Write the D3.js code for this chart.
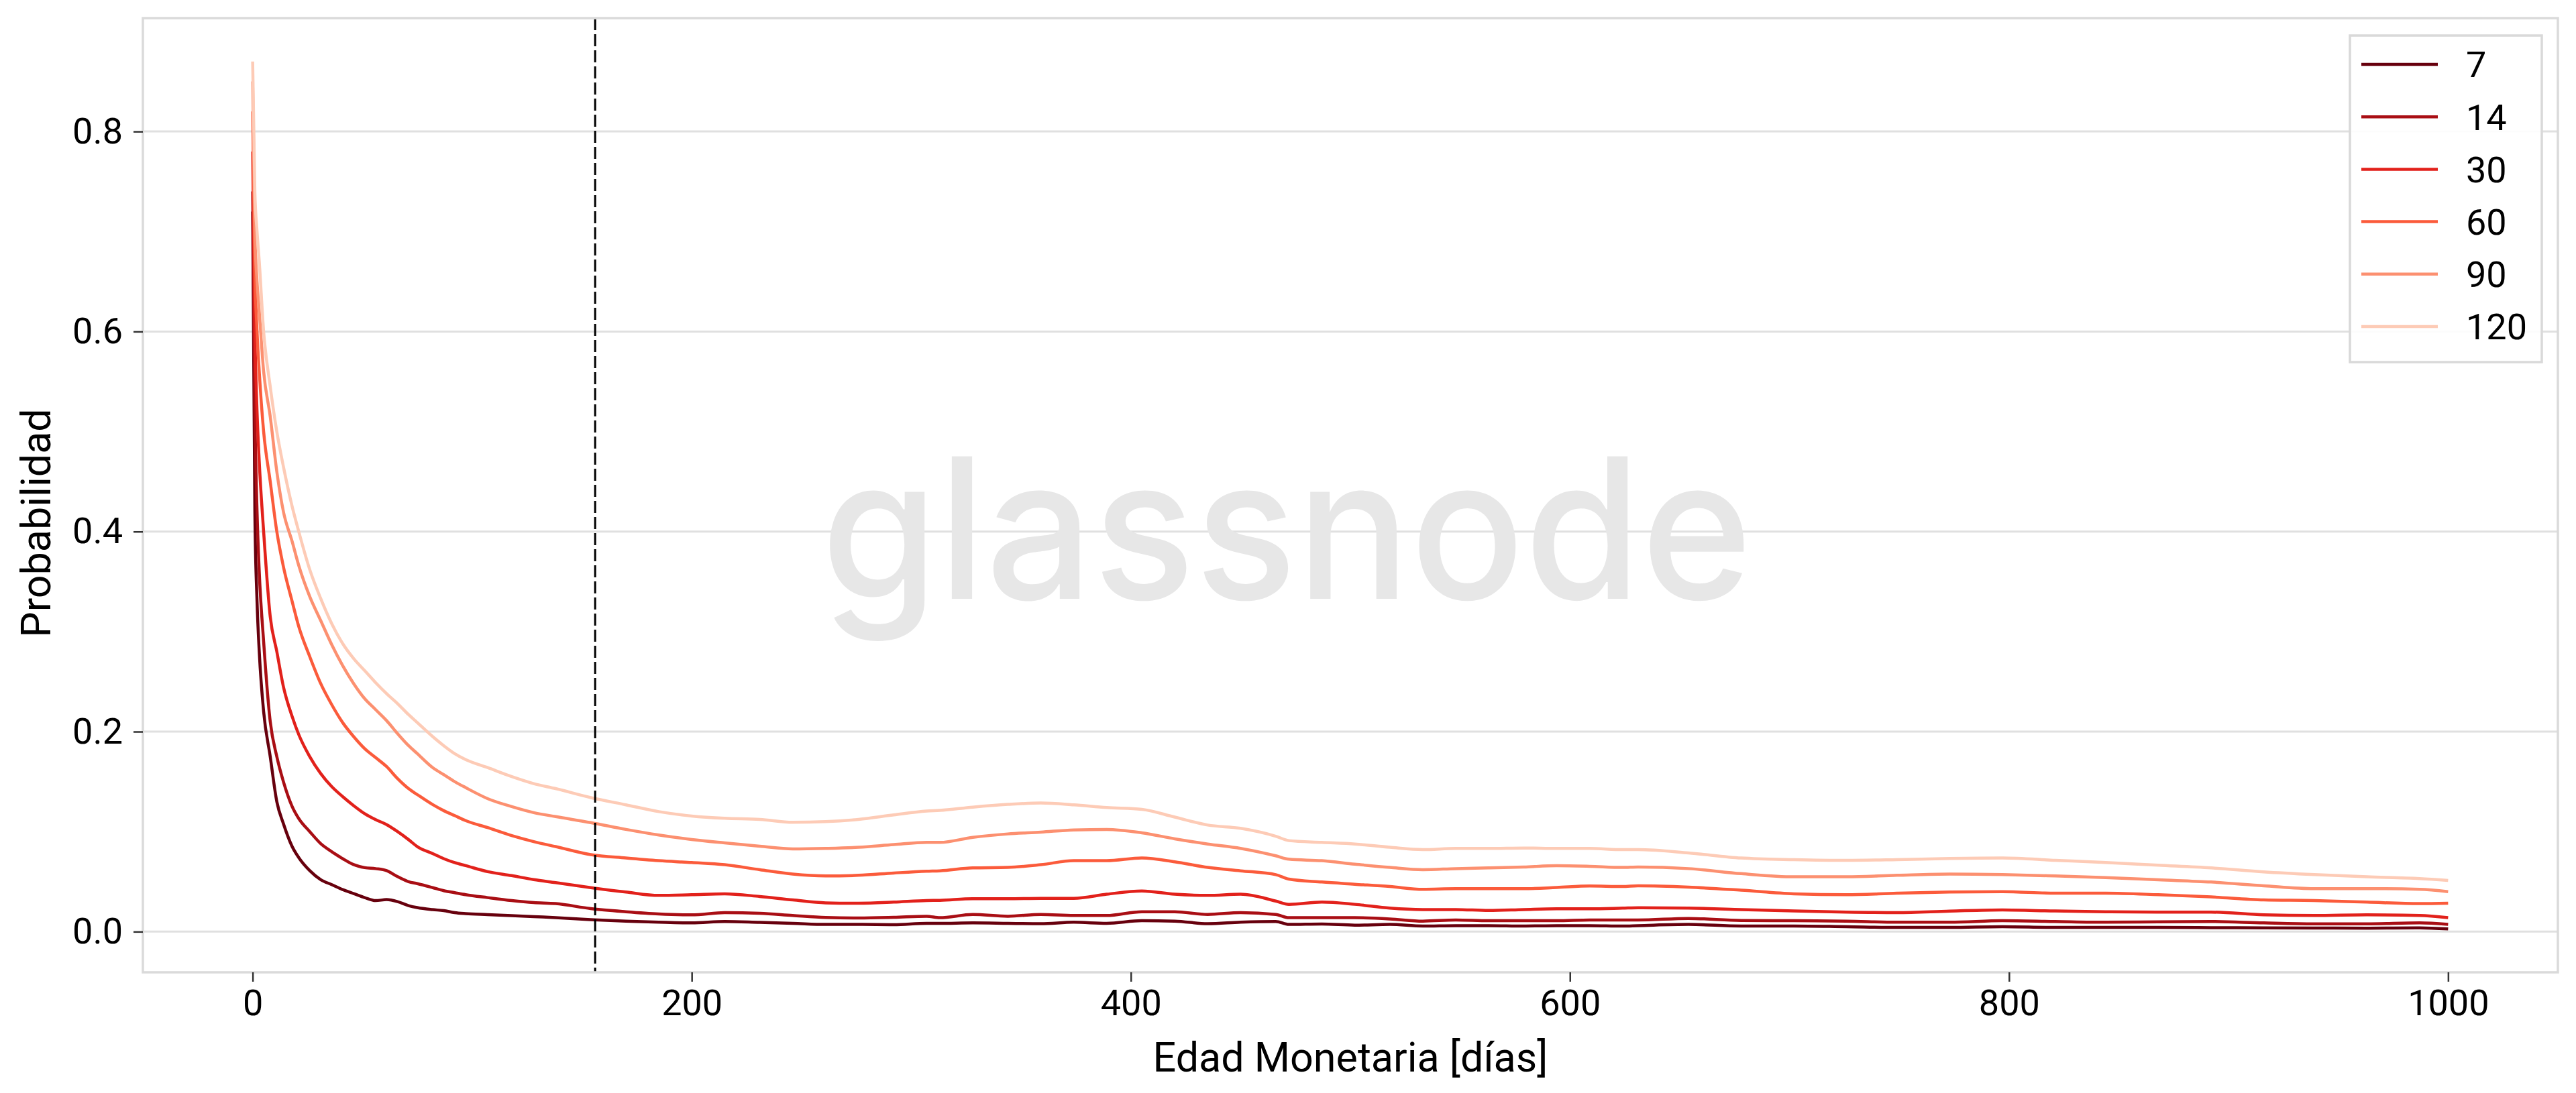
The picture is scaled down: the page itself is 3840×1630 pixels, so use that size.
<!DOCTYPE html>
<html>
<head>
<meta charset="utf-8">
<script src="https://cdn.jsdelivr.net/npm/d3@7"></script>
<style>
  html, body { margin: 0; padding: 0; background: #ffffff; }
  svg { display: block; font-family: Roboto, "Noto Sans", sans-serif; }
</style>
</head>
<body>
<svg id="chart" width="3840" height="1630"></svg>
<script>
// ---- data ----
const days = [0,1,2,3,5,8,11,14,18,21,26,31,36,41,46,51,56,61,66,71,75,82,87,92,97,107,118,128,138,154,
  170,185,200,215,231,246,261,276,292,307,
  313,328,344,359,374,389,405,420,435,450,466,
  472,487,502,518,533,548,563,579,594,609,624,
  631,654,678,702,726,749,773,797,821,844,868,892,916,939,963,987,1000];

const seriesNames = ["7", "14", "30", "60", "90", "120"];

const s7 = [0.72,0.42,0.33,0.28,0.22,0.175,0.13,0.108,0.085,0.074,0.061,0.052,0.047,0.042,0.038,0.034,0.031,0.032,0.030,0.026,0.024,0.022,0.021,0.019,0.018,0.017,0.016,0.015,0.014,0.012,
  0.0105,0.0094,0.0087,0.0101,0.0092,0.0083,0.0072,0.0072,0.0070,0.0083,
  0.0083,0.0087,0.0083,0.0079,0.0094,0.0083,0.0109,0.0105,0.0079,0.0094,0.0101,
  0.0072,0.0076,0.0065,0.0072,0.0056,0.0060,0.0060,0.0056,0.0060,0.0060,0.0056,
  0.0060,0.0072,0.0056,0.0056,0.0049,0.0042,0.0042,0.0049,0.0042,0.0042,0.0042,0.0040,0.0038,0.0036,0.0034,0.0038,0.0027];

const s14 = [0.74,0.52,0.42,0.36,0.29,0.21,0.175,0.15,0.125,0.113,0.10,0.088,0.080,0.073,0.067,0.064,0.063,0.061,0.055,0.050,0.048,0.044,0.041,0.039,0.037,0.034,0.031,0.029,0.028,0.023,
  0.0199,0.0177,0.0168,0.0190,0.0183,0.0161,0.0141,0.0136,0.0143,0.0154,
  0.0139,0.0172,0.0154,0.0172,0.0161,0.0161,0.0199,0.0199,0.0172,0.0190,0.0172,
  0.0139,0.0139,0.0139,0.0127,0.0105,0.0116,0.0109,0.0109,0.0109,0.0116,0.0116,
  0.0116,0.0132,0.0112,0.0109,0.0105,0.0094,0.0094,0.0109,0.0101,0.0094,0.0098,0.0101,0.0087,0.0078,0.0078,0.0087,0.0072];

const s30 = [0.78,0.60,0.52,0.47,0.40,0.315,0.28,0.245,0.215,0.197,0.175,0.158,0.145,0.135,0.126,0.118,0.112,0.107,0.100,0.092,0.085,0.078,0.073,0.069,0.066,0.060,0.056,0.052,0.049,0.044,
  0.0396,0.0362,0.0369,0.0378,0.0351,0.0317,0.0288,0.0284,0.0295,0.0311,
  0.0313,0.0329,0.0329,0.0333,0.0333,0.0374,0.0407,0.0374,0.0362,0.0374,0.0306,
  0.0273,0.0295,0.0273,0.0235,0.0221,0.0221,0.0212,0.0221,0.0228,0.0228,0.0235,
  0.0239,0.0235,0.0221,0.0206,0.0195,0.0190,0.0205,0.0217,0.0206,0.0199,0.0195,0.0195,0.0168,0.0161,0.0168,0.0161,0.0139];

const s60 = [0.82,0.66,0.60,0.56,0.50,0.45,0.40,0.365,0.33,0.305,0.275,0.248,0.227,0.209,0.195,0.183,0.174,0.165,0.153,0.143,0.137,0.127,0.121,0.116,0.111,0.104,0.096,0.090,0.085,0.077,
  0.0736,0.0709,0.0691,0.0669,0.0619,0.0575,0.0557,0.0563,0.0586,0.0604,
  0.0608,0.0637,0.0642,0.0669,0.0709,0.0709,0.0736,0.0698,0.0642,0.0608,0.0570,
  0.0525,0.0496,0.0474,0.0451,0.0423,0.0429,0.0429,0.0429,0.0441,0.0456,0.0451,
  0.0458,0.0445,0.0414,0.0378,0.0369,0.0384,0.0396,0.0400,0.0384,0.0384,0.0369,0.0347,0.0317,0.0311,0.0295,0.0280,0.0284];

const s90 = [0.85,0.70,0.65,0.62,0.56,0.515,0.46,0.42,0.39,0.366,0.335,0.311,0.287,0.266,0.248,0.233,0.222,0.211,0.198,0.186,0.178,0.164,0.157,0.150,0.144,0.133,0.125,0.119,0.115,0.109,
  0.1022,0.0966,0.0921,0.0887,0.0854,0.0827,0.0832,0.0843,0.0870,0.0892,
  0.0892,0.0943,0.0977,0.0995,0.1017,0.1022,0.0988,0.0928,0.0876,0.0832,0.0758,
  0.0724,0.0709,0.0675,0.0642,0.0619,0.0630,0.0637,0.0646,0.0659,0.0653,0.0642,
  0.0646,0.0630,0.0580,0.0548,0.0548,0.0563,0.0575,0.0570,0.0557,0.0541,0.0518,0.0496,0.0458,0.0429,0.0430,0.0423,0.0400];

const s120 = [0.87,0.74,0.70,0.67,0.60,0.545,0.50,0.465,0.425,0.40,0.362,0.333,0.308,0.288,0.273,0.261,0.249,0.238,0.228,0.217,0.209,0.195,0.186,0.178,0.172,0.164,0.155,0.148,0.143,0.134,
  0.1268,0.1200,0.1156,0.1133,0.1122,0.1093,0.1100,0.1122,0.1167,0.1205,
  0.1212,0.1245,0.1272,0.1286,0.1268,0.1241,0.1223,0.1145,0.1066,0.1033,0.0954,
  0.0910,0.0892,0.0876,0.0843,0.0820,0.0832,0.0832,0.0836,0.0832,0.0832,0.0820,
  0.0820,0.0787,0.0736,0.0720,0.0713,0.0720,0.0731,0.0736,0.0713,0.0691,0.0664,0.0637,0.0597,0.0570,0.0548,0.0530,0.0512];

const seriesValues = [s7, s14, s30, s60, s90, s120];
const seriesColors = ["#67000d", "#a90e14", "#e2211b", "#fb5b3b", "#fc9070", "#fdcbb6"];

const xTicks = [0, 200, 400, 600, 800, 1000];
const yTicks = [0.0, 0.2, 0.4, 0.6, 0.8];
const markerDay = 156;

const xLabel = "Edad Monetaria [días]";
const yLabel = "Probabilidad";
const watermark = "glassnode";

// ---- layout ----
const W = 3840, H = 1630;
const plot = { left: 213, right: 3813, top: 27, bottom: 1450 };

const allVals = seriesValues.flat();
const xExt = d3.extent(days), yExt = d3.extent(allVals);
const xPad = (xExt[1] - xExt[0]) * 0.05, yPad = (yExt[1] - yExt[0]) * 0.05;

const x = d3.scaleLinear().domain([xExt[0] - xPad, xExt[1] + xPad]).range([plot.left, plot.right]);
const y = d3.scaleLinear().domain([yExt[0] - yPad, yExt[1] + yPad]).range([plot.bottom, plot.top]);

const svg = d3.select("#chart");
svg.append("rect").attr("width", W).attr("height", H).attr("fill", "#ffffff");

// gridlines
svg.append("g").selectAll("line").data(yTicks).join("line")
  .attr("x1", plot.left).attr("x2", plot.right)
  .attr("y1", d => y(d)).attr("y2", d => y(d))
  .attr("stroke", "#e0e0e0").attr("stroke-width", 3);

// watermark
svg.append("text")
  .attr("x", 1918).attr("y", 893)
  .attr("text-anchor", "middle")
  .attr("font-family", "Inter, 'Noto Sans', sans-serif")
  .attr("font-size", 292)
  .attr("font-weight", 500)
  .attr("fill", "#e7e7e7")
  .attr("textLength", 1388)
  .attr("lengthAdjust", "spacingAndGlyphs")
  .text(watermark);

// lines
const line = d3.line().x((d, i) => x(days[i])).y(d => y(d)).curve(d3.curveMonotoneX);
svg.append("g").selectAll("path").data(seriesValues).join("path")
  .attr("d", d => line(d))
  .attr("fill", "none")
  .attr("stroke", (d, i) => seriesColors[i])
  .attr("stroke-width", 4.5)
  .attr("stroke-linejoin", "round");

// dashed marker
svg.append("line")
  .attr("x1", x(markerDay)).attr("x2", x(markerDay))
  .attr("y1", plot.top).attr("y2", plot.bottom)
  .attr("stroke", "#000").attr("stroke-width", 3)
  .attr("stroke-dasharray", "18,6");

// frame
svg.append("rect")
  .attr("x", plot.left).attr("y", plot.top)
  .attr("width", plot.right - plot.left).attr("height", plot.bottom - plot.top)
  .attr("fill", "none").attr("stroke", "#dadada").attr("stroke-width", 3.5);

// axes
const xAxis = d3.axisBottom(x).tickValues(xTicks).tickSize(14).tickPadding(12).tickFormat(d3.format("d"));
const gx = svg.append("g").attr("transform", `translate(0,${plot.bottom})`).call(xAxis);
gx.select(".domain").remove();
gx.selectAll(".tick line").attr("stroke", "#333").attr("stroke-width", 2.5);
gx.selectAll(".tick text").attr("font-size", 54).attr("fill", "#000").attr("font-family", "Roboto");

const yAxis = d3.axisLeft(y).tickValues(yTicks).tickSize(14).tickPadding(16).tickFormat(d3.format(".1f"));
const gy = svg.append("g").attr("transform", `translate(${plot.left},0)`).call(yAxis);
gy.select(".domain").remove();
gy.selectAll(".tick line").attr("stroke", "#333").attr("stroke-width", 2.5);
gy.selectAll(".tick text").attr("font-size", 54).attr("fill", "#000").attr("font-family", "Roboto");

// axis labels
svg.append("text")
  .attr("x", (plot.left + plot.right) / 2).attr("y", 1598)
  .attr("text-anchor", "middle").attr("font-size", 61).attr("fill", "#000")
  .text(xLabel);
svg.append("text")
  .attr("transform", "translate(75,780) rotate(-90)")
  .attr("text-anchor", "middle").attr("font-size", 61).attr("fill", "#000")
  .text(yLabel);

// legend
const leg = svg.append("g");
leg.append("rect")
  .attr("x", 3503).attr("y", 53).attr("width", 286).attr("height", 487)
  .attr("fill", "#ffffff").attr("fill-opacity", 0.9)
  .attr("stroke", "#d9d9d9").attr("stroke-width", 3.5);
const legItems = leg.selectAll("g.item").data(seriesNames).join("g")
  .attr("class", "item")
  .attr("transform", (d, i) => `translate(0,${96 + i * 78.2})`);
legItems.append("line")
  .attr("x1", 3520).attr("x2", 3634).attr("y1", 0).attr("y2", 0)
  .attr("stroke", (d, i) => seriesColors[i]).attr("stroke-width", 4.5);
legItems.append("text")
  .attr("x", 3676).attr("y", 0).attr("dy", "0.36em")
  .attr("font-size", 54).attr("fill", "#000")
  .text(d => d);
</script>
</body>
</html>
